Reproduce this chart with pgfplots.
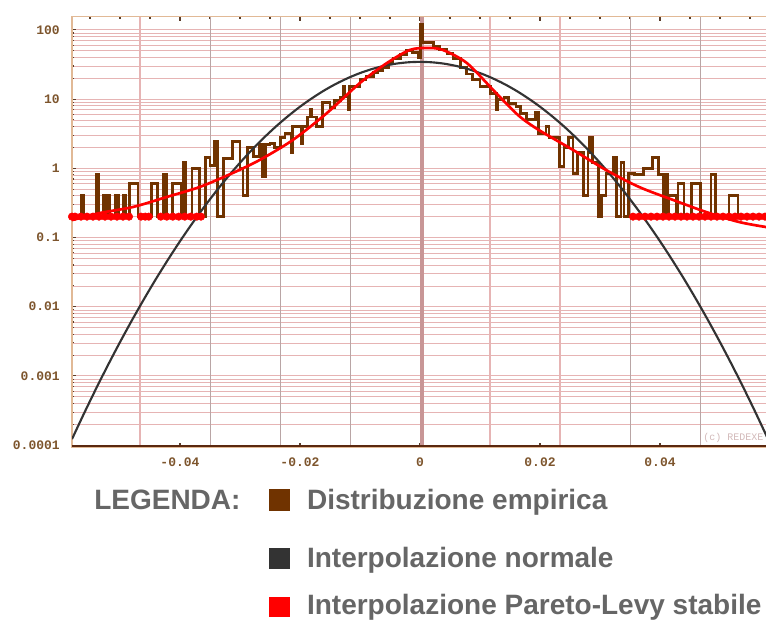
\documentclass[border=0pt]{standalone}
\usepackage{fontspec}
\setmainfont{Liberation Sans}
\newfontfamily\monof{Liberation Mono}
\usepackage{pgfplots}
\pgfplotsset{compat=1.18}
\definecolor{emp}{RGB}{112,51,0}
\definecolor{norm}{RGB}{51,51,51}
\definecolor{plred}{RGB}{255,0,0}
\definecolor{ticktext}{RGB}{125,85,45}
\definecolor{tickcol}{RGB}{90,60,40}
\definecolor{gridpink}{RGB}{230,180,180}
\definecolor{gridgray}{RGB}{185,165,165}
\definecolor{legtext}{RGB}{102,102,102}
\definecolor{band}{RGB}{200,150,150}
\definecolor{topline}{RGB}{225,185,150}
\definecolor{botline}{RGB}{90,40,15}
\definecolor{wm}{RGB}{210,185,185}
\begin{document}
\begin{tikzpicture}
\path[use as bounding box] (0,0) rectangle (574.5pt,-465.75pt);
\begin{axis}[
  at={(54pt,-12.5pt)}, anchor=north west,
  scale only axis, width=522pt, height=322.7pt,
  xmin=-0.058, xmax=0.058,
  ymode=log, ymin=9.4e-5, ymax=155,
  scaled x ticks=false,
  xtick={-0.04,-0.02,0,0.02,0.04},
  xticklabels={-0.04,-0.02,0,0.02,0.04},
  minor xtick={-0.055,-0.05,-0.045,-0.035,-0.03,-0.025,-0.015,-0.01,-0.005,0.005,0.01,0.015,0.025,0.03,0.035,0.045,0.05,0.055},
  ytick={1e-4,1e-3,1e-2,0.1,1,10,100},
  yticklabels={0.0001,0.001,0.01,0.1,1,10,100},
  minor ytick={2e-4,3e-4,4e-4,5e-4,6e-4,7e-4,8e-4,9e-4,
    2e-3,3e-3,4e-3,5e-3,6e-3,7e-3,8e-3,9e-3,
    0.02,0.03,0.04,0.05,0.06,0.07,0.08,0.09,
    0.2,0.3,0.4,0.5,0.6,0.7,0.8,0.9,
    2,3,4,5,6,7,8,9,20,30,40,50,60,70,80,90},
  ymajorgrids, yminorgrids,
  major grid style={gridpink, line width=0.6pt},
  minor grid style={gridpink, line width=0.45pt},
  axis line style={topline, line width=1.2pt},
  tick style={tickcol, line width=0.8pt},
  major tick length=3pt, minor tick length=1.8pt,
  ytick pos=left,
  xticklabel style={font=\monof\bfseries\fontsize{9.75pt}{10pt}\selectfont, text=ticktext, anchor=base, yshift=-15pt},
  yticklabel style={font=\monof\bfseries\fontsize{9.75pt}{10pt}\selectfont, text=ticktext, anchor=east, inner sep=0pt, xshift=-9pt},
]
% vertical grid lines
\draw[gridpink, line width=0.8pt] (axis cs:-0.046667,9.4e-5) -- (axis cs:-0.046667,155);
\draw[gridgray, line width=0.7pt] (axis cs:-0.035,9.4e-5) -- (axis cs:-0.035,155);
\draw[gridgray, line width=0.7pt] (axis cs:-0.023333,9.4e-5) -- (axis cs:-0.023333,155);
\draw[gridgray, line width=0.7pt] (axis cs:-0.011667,9.4e-5) -- (axis cs:-0.011667,155);
\draw[gridpink, line width=0.8pt] (axis cs:0.011667,9.4e-5) -- (axis cs:0.011667,155);
\draw[gridpink, line width=0.8pt] (axis cs:0.023333,9.4e-5) -- (axis cs:0.023333,155);
\draw[gridgray, line width=0.7pt] (axis cs:0.035,9.4e-5) -- (axis cs:0.035,155);
\draw[gridgray, line width=0.7pt] (axis cs:0.046667,9.4e-5) -- (axis cs:0.046667,155);
\draw[band, line width=3pt] (axis cs:0.00025,9.4e-5) -- (axis cs:0.00025,155);
% empirical distribution
\addplot[emp, line width=2.2pt, const plot] coordinates {
(-0.0580,0.2)(-0.0564,0.4)(-0.0560,0.2)(-0.0540,0.8)(-0.0536,0.2)
(-0.0527,0.4)(-0.0524,0.2)(-0.0521,0.4)(-0.0518,0.2)(-0.0507,0.4)
(-0.0503,0.2)(-0.0495,0.4)(-0.0491,0.2)(-0.0484,0.6)(-0.0470,0.2)
(-0.0448,0.6)(-0.0438,0.2)(-0.0427,0.8)(-0.0423,0.2)(-0.0413,0.6)
(-0.0398,0.2)(-0.0394,1.2)(-0.0390,0.2)(-0.0380,1.0)(-0.0367,0.2)
(-0.0358,1.45)(-0.0350,1.1)(-0.0343,2.4)(-0.0337,0.2)(-0.0328,1.4)
(-0.0312,2.4)(-0.0300,1.0)(-0.0295,0.4)(-0.0288,2.0)(-0.0278,1.5)
(-0.0267,2.2)(-0.0263,0.75)(-0.0258,2.2)(-0.0250,2.3)(-0.0242,2.0)
(-0.0233,2.8)(-0.0225,3.2)(-0.0215,1.7)(-0.0212,4.0)(-0.0198,2.3)
(-0.0195,4.0)(-0.0188,5.5)(-0.0183,7.0)(-0.0180,5.5)(-0.0172,4.0)
(-0.0162,8.8)(-0.0150,7.5)(-0.0143,9.5)(-0.0133,10.7)(-0.0128,15)
(-0.0125,10.7)(-0.0120,7)(-0.0117,15)(-0.0100,19)(-0.0090,21)
(-0.0078,24)(-0.0070,26)(-0.0062,29)(-0.0053,34)(-0.0045,39)
(-0.0033,44)(-0.0022,51)(-0.0012,47)(-0.0003,40)(0.0001,120)
(0.0005,65)(0.0022,57)(0.0033,52)(0.0045,46)(0.0055,38)
(0.0067,29)(0.0077,23)(0.0088,19)(0.0100,15)(0.0117,12)
(0.0127,7)(0.0130,9.7)(0.0140,10.5)(0.0148,8.5)(0.0160,7.7)
(0.0168,6.2)(0.0177,5)(0.0193,6.5)(0.0198,3.2)(0.0210,4)
(0.0215,2.8)(0.0232,1.05)(0.0240,2.0)(0.0248,2.8)(0.0255,0.85)
(0.0263,1.7)(0.0273,0.4)(0.0280,1.7)(0.0283,2.8)(0.0288,1.2)
(0.0298,0.2)(0.0303,0.4)(0.0310,0.85)(0.0322,1.45)(0.0327,0.2)
(0.0335,1.2)(0.0340,0.2)(0.0347,0.85)(0.0357,0.8)(0.0373,1.0)
(0.0388,1.45)(0.0397,0.8)(0.0405,0.2)(0.0407,0.8)(0.0413,0.2)
(0.0415,0.4)(0.0427,0.2)(0.0430,0.6)(0.0440,0.2)(0.0452,0.6)
(0.0468,0.2)(0.0485,0.8)(0.0493,0.2)(0.0515,0.4)(0.0530,0.2)
(0.0580,0.2)};
% normal fit
\addplot[norm, line width=1.6pt, smooth] coordinates {
(-0.058,1.22e-4)(-0.056,2.86e-4)(-0.054,6.5e-4)(-0.052,1.434e-3)(-0.050,3.07e-3)
(-0.048,6.38e-3)(-0.046,0.01286)(-0.044,0.0252)(-0.042,0.0478)(-0.040,0.0882)
(-0.038,0.1578)(-0.036,0.274)(-0.034,0.4617)(-0.032,0.756)(-0.030,1.200)
(-0.028,1.850)(-0.026,2.768)(-0.024,4.02)(-0.022,5.66)(-0.020,7.75)
(-0.018,10.28)(-0.016,13.26)(-0.014,16.59)(-0.012,20.13)(-0.010,23.73)
(-0.008,27.14)(-0.006,30.12)(-0.004,32.46)(-0.002,33.94)(0,34.45)
(0.002,33.94)(0.004,32.46)(0.006,30.12)(0.008,27.14)(0.010,23.73)
(0.012,20.13)(0.014,16.59)(0.016,13.26)(0.018,10.28)(0.020,7.75)
(0.022,5.66)(0.024,4.02)(0.026,2.768)(0.028,1.850)(0.030,1.200)
(0.032,0.756)(0.034,0.4617)(0.036,0.274)(0.038,0.1578)(0.040,0.0882)
(0.042,0.0478)(0.044,0.0252)(0.046,0.01286)(0.048,6.38e-3)(0.050,3.07e-3)
(0.052,1.434e-3)(0.054,6.5e-4)(0.056,2.86e-4)(0.058,1.22e-4)};
% Pareto-Levy fit
\addplot[plred, line width=2pt, smooth] coordinates {
(-0.0580,0.178)(-0.0533,0.226)(-0.0478,0.276)(-0.0422,0.385)(-0.0367,0.537)
(-0.0312,0.855)(-0.0267,1.32)(-0.0212,2.56)(-0.0155,6.29)(-0.0100,17.1)
(-0.0055,33.2)(-0.0017,51.2)(0.0012,54.7)(0.0038,51.2)(0.0078,33.2)
(0.0122,13.5)(0.0143,8.77)(0.0167,5.51)(0.0198,3.57)(0.0255,1.84)
(0.0310,0.944)(0.0365,0.537)(0.0422,0.348)(0.0477,0.233)(0.0532,0.167)
(0.0580,0.140)};
% Pareto-Levy points in the tails
\addplot[plred, only marks, mark=*, mark size=2.8pt] coordinates {
(-0.0580,0.2)(-0.0575,0.2)(-0.0565,0.2)(-0.0555,0.2)(-0.0545,0.2)(-0.0535,0.2)
(-0.0525,0.2)(-0.0515,0.2)(-0.0505,0.2)(-0.0495,0.2)(-0.0485,0.2)
(-0.0465,0.2)(-0.0458,0.2)(-0.0452,0.2)
(-0.0432,0.2)(-0.0422,0.2)(-0.0412,0.2)(-0.0402,0.2)(-0.0392,0.2)
(-0.0382,0.2)(-0.0372,0.2)(-0.0365,0.2)
(0.0355,0.2)(0.0365,0.2)(0.0375,0.2)(0.0385,0.2)(0.0395,0.2)(0.0405,0.2)
(0.0415,0.2)(0.0425,0.2)(0.0435,0.2)(0.0445,0.2)(0.0455,0.2)(0.0465,0.2)
(0.0475,0.2)(0.0485,0.2)(0.0495,0.2)(0.0505,0.2)(0.0515,0.2)(0.0525,0.2)
(0.0535,0.2)(0.0545,0.2)(0.0555,0.2)(0.0565,0.2)(0.0575,0.2)};
\draw[botline, line width=2.2pt] (rel axis cs:0,0) -- (rel axis cs:1,0);
\end{axis}
\begin{scope}[x=0.75pt, y=-0.75pt]
\node[anchor=base west, inner sep=0pt, font=\monof\fontsize{7.5pt}{8pt}\selectfont, text=wm] at (703,440) {(c) REDEXE};
\node[anchor=base west, inner sep=0pt, font=\fontsize{21pt}{24pt}\selectfont\bfseries, text=legtext] at (94,509.3) {LEGENDA:};
\fill[emp] (268.5,489.3) rectangle (289.7,510.7);
\node[anchor=base west, inner sep=0pt, font=\fontsize{21pt}{24pt}\selectfont\bfseries, text=legtext] at (306.8,509.3) {Distribuzione empirica};
\fill[norm] (268.5,547.7) rectangle (289.7,569);
\node[anchor=base west, inner sep=0pt, font=\fontsize{21pt}{24pt}\selectfont\bfseries, text=legtext] at (306.8,567.3) {Interpolazione normale};
\fill[plred] (268.5,596.7) rectangle (289.7,617.3);
\node[anchor=base west, inner sep=0pt, font=\fontsize{21pt}{24pt}\selectfont\bfseries, text=legtext] at (306.8,614.5) {Interpolazione Pareto-Levy stabile};
\end{scope}
\end{tikzpicture}
\end{document}
